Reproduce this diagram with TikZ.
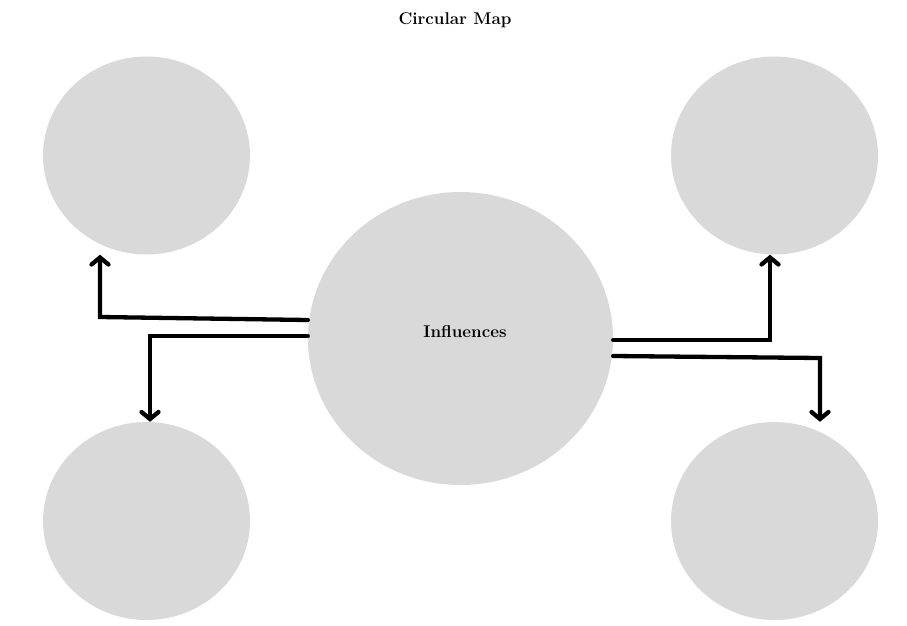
\documentclass[tikz,border=0pt]{standalone}
\usetikzlibrary{shapes.geometric,arrows.meta}
\definecolor{bubble}{HTML}{D9D9D9}
\begin{document}
\begin{tikzpicture}[x=1pt,y=-1pt,
  bub/.style={ellipse,fill=bubble,draw=none,inner sep=0pt,minimum width=207pt,minimum height=198pt},
  big/.style={ellipse,fill=bubble,draw=none,inner sep=0pt,minimum width=305pt,minimum height=293pt},
  lbl/.style={font=\fontsize{17}{20}\selectfont\bfseries},
  arr/.style={line width=4.3pt,line cap=round,line join=miter,-{Straight Barb[length=7pt,width=17pt,line cap=round]}}]
\useasboundingbox (0,0) rectangle (907,626);
\node[lbl] (title) at (455,20) {Circular Map};
\node[bub] (tl) at (146.5,155.5) {};
\node[bub] (tr) at (774.5,155.5) {};
\node[bub] (bl) at (146.5,521) {};
\node[bub] (br) at (774.5,521) {};
\node[big] (c) at (460.5,338.5) {};
\node[lbl] (ctext) at (465,332) {Influences};
\coordinate (k1) at (100,317);
\coordinate (k2) at (150,336);
\coordinate (k3) at (770,340);
\coordinate (k4) at (820,358);
\draw[arr] ([yshift=18.5pt]c.west) -- (k1) -- (tl.south -| k1);
\draw[arr] ([yshift=2.5pt]c.west) -- (k2) -- (bl.north -| k2);
\draw[arr] ([yshift=-1.5pt]c.east) -- (k3) -- (tr.south -| k3);
\draw[arr] ([yshift=-17.5pt]c.east) -- (k4) -- (br.north -| k4);
\end{tikzpicture}
\end{document}
